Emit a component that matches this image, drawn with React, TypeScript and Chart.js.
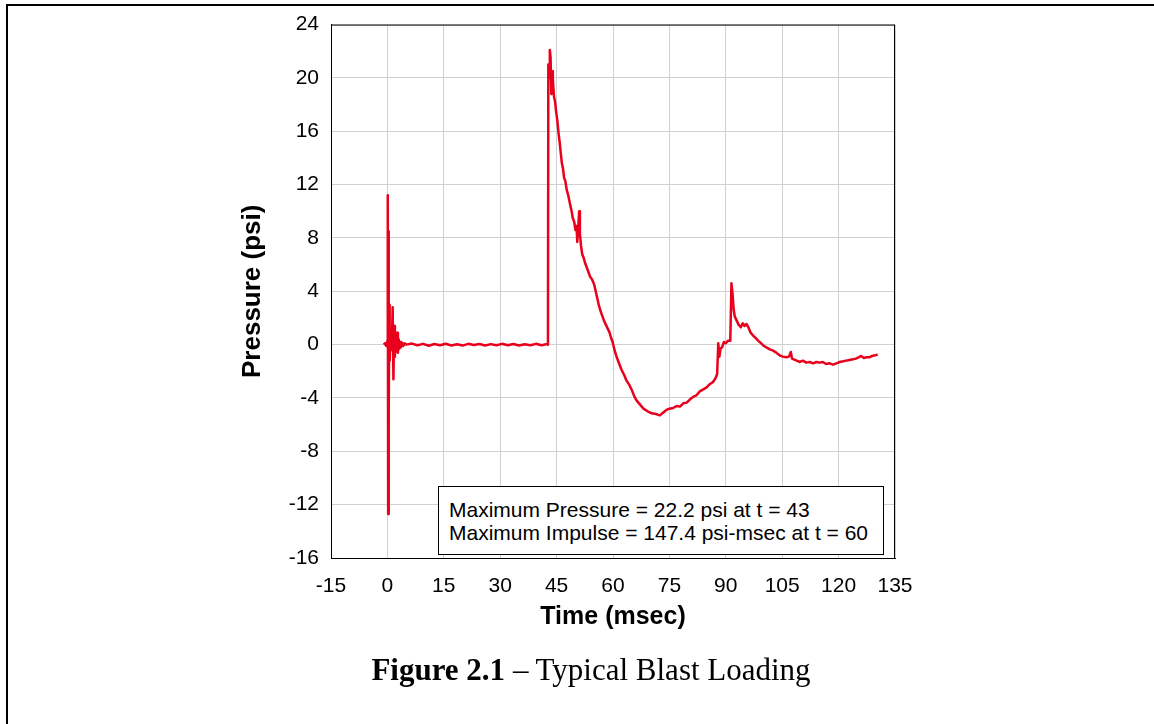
import React, { useEffect, useRef } from "react";
import { Chart, registerables } from "chart.js";

Chart.register(...registerables);

// ---- Data ----
const timeMs: number[] = [
  -1.0, -0.6, -0.3, 0.0, 0.1, 0.2, 0.3, 0.4, 0.5, 0.6, 0.8, 1.0, 1.2, 1.4, 1.6, 1.8, 2.0, 2.2, 2.4, 2.6,
  2.8, 3.0, 3.2, 3.4, 3.6, 3.9, 4.2, 4.6, 5.0,
  6.5, 8.0, 9.5, 11.0, 12.5, 14.0, 15.5, 17.0, 18.5, 20.0, 21.5, 23.0, 24.5, 26.0, 27.5, 29.0, 30.5, 32.0,
  33.5, 35.0, 36.5, 38.0, 39.5, 41.0, 42.5, 42.7,
  42.8, 43.0, 43.2, 43.4, 43.6, 43.8, 44.0, 44.3, 44.6, 44.9, 45.2, 45.5, 45.8, 46.1, 46.4, 46.7, 47.0, 47.3,
  47.7, 48.1, 48.6, 49.0, 49.3, 49.7, 50.0, 50.3, 50.5, 50.8, 51.0, 51.2, 51.5, 51.8, 52.2, 52.6, 53.0, 53.4,
  53.9, 54.4, 55.0, 55.4, 55.8, 56.2, 56.6, 57.1, 57.6, 58.1, 58.6, 59.1, 59.5, 59.9, 60.4, 61.0, 61.6, 62.3,
  63.0, 63.6, 64.3, 65.0, 65.7, 66.3, 67.2, 68.1, 69.2, 70.3, 71.4, 72.5, 73.3, 74.2, 75.0, 76.0, 76.9, 77.8,
  78.7, 79.6, 80.5, 81.4, 82.2, 83.1, 84.0, 84.9, 85.8, 86.6, 87.3, 87.7, 88.0, 88.3, 88.6, 89.0, 89.5, 90.0,
  90.6, 91.2, 91.5, 91.8, 92.1, 92.4, 92.9, 93.4, 94.0, 94.5, 95.0, 95.5, 96.0, 96.6, 97.2, 97.9, 98.6, 99.4,
  100.1, 100.8, 101.7, 102.6, 103.4, 104.3, 105.2, 106.1, 106.8, 107.3, 107.6, 108.4, 109.6, 110.5, 111.4,
  112.3, 113.2, 114.1, 114.9, 115.8, 116.7, 117.6, 118.5, 119.4, 120.3, 121.2, 122.0, 122.9, 123.8, 124.6,
  125.3, 126.0, 126.7, 127.4, 128.2, 128.9, 129.7, 130.4,
];

const pressurePsi: number[] = [
  0, 0.1, -0.1, 0.3, 11.2, -12.7, 8.5, -5.2, 3.0, -1.2, 0.6, -0.4, 0.3, 2.8, -2.6, 1.4, -0.9, 0.6, -0.5, 0.9,
  -0.6, 0.4, -0.3, 0.2, -0.2, 0.15, -0.1, 0.1, 0,
  0.08, -0.05, 0.06, -0.08, 0.05, -0.04, 0.07, -0.06, 0.03, -0.07, 0.06, -0.03, 0.05, -0.06, 0.04, -0.05, 0.06,
  -0.04, 0.05, -0.06, 0.03, -0.05, 0.06, -0.04, 0.05, 0.0,
  21.0, 20.0, 22.1, 21.5, 18.8, 20.5, 19.9, 18.6, 18.2, 17.4, 16.8, 15.9, 15.2, 14.4, 13.6, 13.2, 12.5, 12.3,
  11.6, 11.2, 10.5, 10.0, 9.5, 9.2, 8.6, 8.9, 7.7, 9.0, 10.0, 8.3, 7.4, 6.8, 6.5, 6.1, 5.8, 5.5,
  5.1, 4.9, 4.5, 4.0, 3.5, 3.0, 2.6, 2.2, 1.8, 1.5, 1.2, 0.9, 0.5, 0.2, -0.4, -0.95, -1.4, -1.9,
  -2.3, -2.7, -3.0, -3.4, -3.9, -4.2, -4.5, -4.8, -5.0, -5.15, -5.2, -5.3, -5.1, -4.9, -4.8, -4.75, -4.6, -4.65,
  -4.4, -4.35, -4.1, -3.9, -3.8, -3.5, -3.35, -3.2, -2.95, -2.8, -2.5, -2.2, 0.1, -0.9, -0.3, -0.2, 0.2, 0.1,
  0.3, 0.3, 4.6, 3.8, 2.6, 2.1, 1.8, 1.5, 1.3, 1.6, 1.4, 1.55, 1.3, 0.9, 0.7, 0.5, 0.3, 0.1,
  -0.1, -0.2, -0.35, -0.45, -0.6, -0.8, -0.9, -0.95, -0.9, -0.55, -1.05, -1.15, -1.3, -1.2, -1.35,
  -1.3, -1.4, -1.3, -1.35, -1.3, -1.45, -1.4, -1.5, -1.4, -1.3, -1.25, -1.2, -1.15, -1.1, -1.05,
  -0.95, -0.85, -1.0, -0.95, -0.95, -0.85, -0.8, -0.75,
];

const xTickValues: number[] = [-15, 0, 15, 30, 45, 60, 75, 90, 105, 120, 135];
const yTickValues: number[] = [-16, -12, -8, -4, 0, 4, 8, 12, 16, 20, 24];

const xAxisTitle = "Time (msec)";
const yAxisTitle = "Pressure (psi)";
const annotationLines: string[] = [
  "Maximum Pressure = 22.2 psi at t = 43",
  "Maximum Impulse = 147.4 psi-msec at t = 60",
];
const captionBold = "Figure 2.1";
const captionRest = " \u2013 Typical Blast Loading";

const SANS = '"Liberation Sans", Arial, Helvetica, sans-serif';
const SERIF = '"Liberation Serif", "Times New Roman", serif';

const plotBorder = {
  id: "plotBorder",
  afterDatasetsDraw(chart: any) {
    const { ctx, chartArea } = chart;
    const { left, top, right, bottom } = chartArea;
    ctx.save();
    ctx.strokeStyle = "#000";
    ctx.lineWidth = 1;
    ctx.strokeRect(left + 0.5, top + 0.5, right - left - 1, bottom - top);
    ctx.restore();
  },
};

export default function App() {
  const canvasRef = useRef<HTMLCanvasElement | null>(null);

  useEffect(() => {
    const canvas = canvasRef.current;
    if (!canvas) return;
    const points = timeMs.map((t, i) => ({ x: t, y: pressurePsi[i] }));
    const chart = new Chart(canvas, {
      type: "line",
      data: {
        datasets: [
          {
            data: points,
            borderColor: "#e8001c",
            borderWidth: 2.5,
            pointRadius: 0,
            tension: 0,
            fill: false,
            borderJoinStyle: "round",
          },
        ],
      },
      options: {
        animation: false,
        responsive: false,
        parsing: false,
        layout: { padding: { left: 230, right: 259, top: 24, bottom: 70 } },
        plugins: { legend: { display: false }, tooltip: { enabled: false } },
        scales: {
          x: {
            type: "linear",
            min: xTickValues[0],
            max: xTickValues[xTickValues.length - 1],
            afterBuildTicks: (scale: any) => {
              scale.ticks = xTickValues.map((v) => ({ value: v }));
            },
            afterFit: (scale: any) => {
              scale.height = 96;
            },
            grid: { color: "#d0d0d0", lineWidth: 1, drawTicks: false },
            border: { display: true, color: "#000" },
            ticks: {
              padding: 16,
              color: "#000",
              font: { family: SANS, size: 21 },
              maxRotation: 0,
              autoSkip: false,
            },
            title: {
              display: true,
              text: xAxisTitle,
              color: "#000",
              font: { family: SANS, size: 25, weight: "bold" },
              padding: { top: 0, bottom: 22 },
            },
          },
          y: {
            type: "linear",
            min: yTickValues[0],
            max: yTickValues[yTickValues.length - 1],
            afterBuildTicks: (scale: any) => {
              scale.ticks = yTickValues.map((v) => ({ value: v }));
            },
            afterFit: (scale: any) => {
              scale.width = 101;
            },
            grid: { color: "#d0d0d0", lineWidth: 1, drawTicks: false },
            border: { display: true, color: "#000" },
            ticks: {
              padding: 12,
              color: "#000",
              font: { family: SANS, size: 21 },
              autoSkip: false,
            },
            title: {
              display: true,
              text: yAxisTitle,
              color: "#000",
              font: { family: SANS, size: 26, weight: "bold" },
              padding: { top: 7, bottom: 0 },
            },
          },
        },
      },
      plugins: [plotBorder],
    } as any);
    return () => chart.destroy();
  }, []);

  return (
    <div
      style={{
        position: "absolute",
        left: 0,
        top: 0,
        width: 1154,
        height: 724,
        overflow: "hidden",
        background: "#fff",
      }}
    >
      <div
        style={{
          position: "absolute",
          left: 6,
          top: 4,
          width: 2000,
          height: 2000,
          borderLeft: "2px solid #000",
          borderTop: "2px solid #000",
        }}
      />
      <canvas
        ref={canvasRef}
        width={1154}
        height={724}
        style={{ position: "absolute", left: 0, top: 0, width: 1154, height: 724 }}
      />
      <div
        style={{
          position: "absolute",
          left: 438,
          top: 486,
          width: 446,
          height: 69,
          boxSizing: "border-box",
          border: "1px solid #000",
          background: "#fff",
          padding: "11px 0 0 10px",
          fontFamily: SANS,
          fontSize: 21,
          lineHeight: "23px",
          color: "#000",
          whiteSpace: "nowrap",
        }}
      >
        {annotationLines.map((l, i) => (
          <div key={i}>{l}</div>
        ))}
      </div>
      <div
        style={{
          position: "absolute",
          left: 591,
          top: 650,
          transform: "translateX(-50%)",
          fontFamily: SERIF,
          fontSize: 31,
          lineHeight: "40px",
          color: "#000",
          whiteSpace: "nowrap",
        }}
      >
        <b>{captionBold}</b>
        {captionRest}
      </div>
    </div>
  );
}
